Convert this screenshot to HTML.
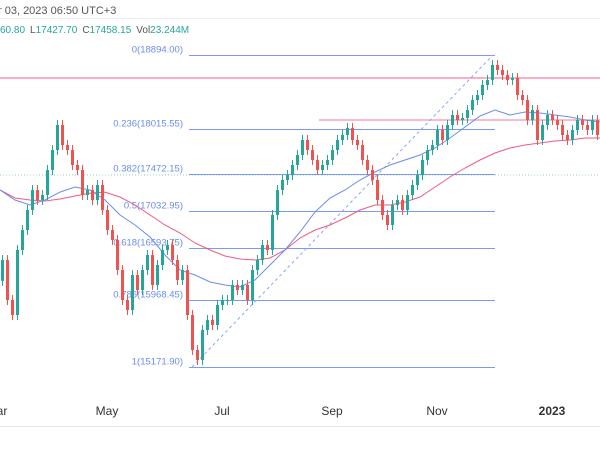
<!DOCTYPE html>
<html><head><meta charset="utf-8"><style>
body{margin:0;background:#fff;width:600px;height:450px;overflow:hidden;font-family:"Liberation Sans",sans-serif}
svg{display:block}
</style></head><body>
<svg id="chart" width="600" height="450" xmlns="http://www.w3.org/2000/svg">
<text x="-2" y="14" font-size="11" fill="#555">r 03, 2023 06:50 UTC+3</text>
<line x1="0" y1="18.5" x2="600" y2="18.5" stroke="#eee"/>
<text x="0" y="33" font-size="10"><tspan fill="#26a69a">60.80</tspan><tspan fill="#555" dx="5">L</tspan><tspan fill="#26a69a">17427.70</tspan><tspan fill="#555" dx="5">C</tspan><tspan fill="#26a69a">17458.15</tspan><tspan fill="#555" dx="5">Vol</tspan><tspan fill="#26a69a">23.244M</tspan></text>
<line x1="0" y1="426.5" x2="600" y2="426.5" stroke="#e6e6e6"/>
<g id="g"></g>
</svg>
<script>
const closes=[16448,15971,15792,16568,16806,17045,17283,17164,17224,17522,17760,18059,17820,17760,17582,17522,17224,17283,17164,17343,17045,16806,16687,16329,15971,15852,16269,16090,16329,16508,16150,16389,16568,16627,16448,16210,16329,15792,15375,15256,15613,15732,15673,15912,15971,15971,16150,16090,16150,15971,16329,16448,16627,16568,16985,17283,17403,17462,17582,17701,17880,17760,17641,17522,17582,17641,17760,17880,17940,18023,17880,17820,17641,17522,17403,17164,16985,16866,17104,17164,17045,17224,17343,17462,17641,17760,17820,17999,17880,18059,18178,18118,18142,18238,18357,18417,18536,18596,18775,18715,18655,18596,18620,18417,18357,18118,18238,17880,18059,18178,18118,18059,17940,17880,17999,18118,18059,17999,18118,17940];
const firstOpen=16200;
const maFast=[17283,17164,17104,17164,17259,17319,17283,17164,16985,16866,16723,16508,16329,16269,16186,16150,16126,16210,16389,16568,16782,17021,17188,17283,17403,17498,17582,17641,17701,17784,17904,18035,18166,18238,18178,18214,18202,18178,18154,18118,18095];
const maSlow=[17283,17188,17164,17152,17176,17212,17247,17259,17200,17104,16985,16866,16770,16651,16568,16496,16460,16448,16472,16568,16711,16806,16866,16949,17045,17104,17104,17140,17200,17319,17438,17546,17641,17725,17784,17820,17844,17868,17880,17904,17904];
const fibRatios=["0","0.236","0.382","0.5","0.618","0.786","1"];
const fibPrices=[18894.00,18015.55,17472.15,17032.95,16593.75,15968.45,15171.90];
const fibHigh=18894.00, fibLow=15171.90;
const tickLabels=["Mar","May","Jul","Sep","Nov","2023"];
const tickIdx=[-1,21,44,66,87,110];
const redLevel=18620, pinkLevel=18118, lastLevel=17462;

const y=p=>55+(fibHigh-p)*312/(fibHigh-fibLow);
const x=i=>2+5*i;
const mx=i=>i*15;
const g=document.getElementById('g');
const NS='http://www.w3.org/2000/svg';
function mk(t,a){const e=document.createElementNS(NS,t);for(const k in a)e.setAttribute(k,a[k]);g.appendChild(e);return e;}

let e;
e=mk('line',{x1:0,x2:600,y1:y(redLevel),y2:y(redLevel),stroke:'#f06292','stroke-width':1});


e=mk('line',{x1:319,x2:600,y1:y(pinkLevel),y2:y(pinkLevel),stroke:'#f8bbd0','stroke-width':2});


e=mk('line',{x1:0,x2:600,y1:y(lastLevel),y2:y(lastLevel),stroke:'#9ccfc4','stroke-width':1,'stroke-dasharray':'1,2'});



fibPrices.forEach((p,k)=>{
  const yy=Math.round(y(p))+0.5;
  const l=mk('line',{x1:189,x2:495,y1:yy,y2:yy,stroke:'#7a9af5','stroke-width':1});
  
  
  const t=mk('text',{x:183,y:yy-3,'font-size':9.5,fill:'#6b8cf2','text-anchor':'end'});
  t.textContent=fibRatios[k]+'('+p.toFixed(2)+')';
  
  
});
e=mk('line',{x1:192,y1:y(fibLow),x2:493,y2:y(fibHigh),stroke:'#8aa6f5','stroke-width':1,'stroke-dasharray':'3,3'});



function path(arr,col,name){
  const d=arr.map((v,i)=>(i?'L':'M')+mx(i)+','+y(v).toFixed(1)).join('');
  const p=mk('path',{d:d,fill:'none',stroke:col,'stroke-width':1});
  
  
}
path(maSlow,'#ef5b82','slow-moving-average');
path(maFast,'#6b8cf2','fast-moving-average');

let prev=firstOpen;
closes.forEach((c,i)=>{
  const o=prev; prev=c;
  const up=c>=o, col=up?'#26a69a':'#ef5350';
  const hi=Math.max(o,c)+60, lo=Math.min(o,c)-60;
  const w=mk('line',{x1:x(i)+0.5,x2:x(i)+0.5,y1:y(hi),y2:y(lo),stroke:col,'stroke-width':1});
  
  
  const top=y(Math.max(o,c)), h=Math.max(1,y(Math.min(o,c))-top);
  const b=mk('rect',{x:x(i)-1,y:top,width:3,height:h,fill:col});
  
  
});

tickLabels.forEach((t,k)=>{
  const el=mk('text',{x:x(tickIdx[k]),y:415,'font-size':12,fill:'#333','text-anchor':'middle','font-weight':t==='2023'?'bold':'normal'});
  el.textContent=t;
  
  
});
</script>
</body></html>
